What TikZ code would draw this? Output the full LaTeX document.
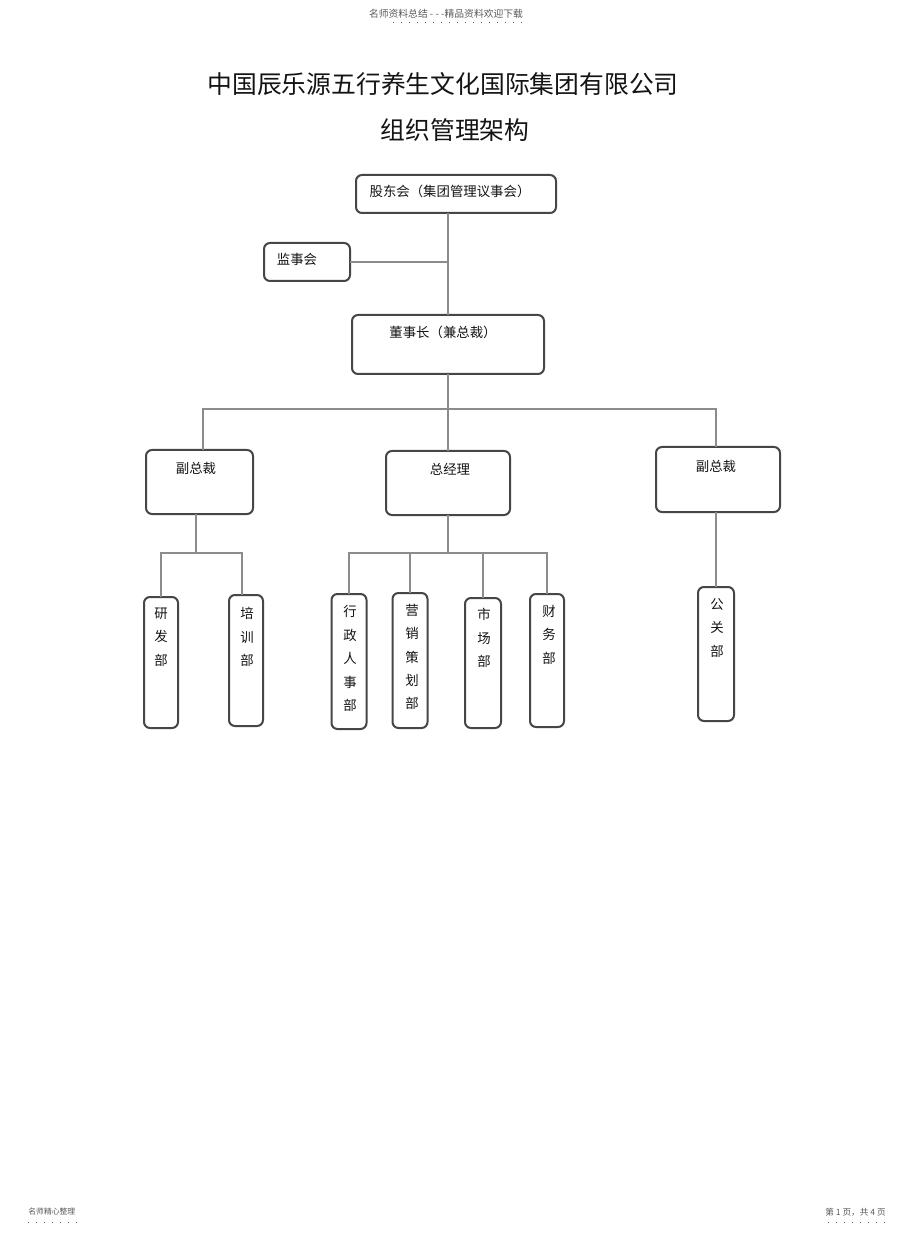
\documentclass[tikz,border=0pt]{standalone}
\usepackage{fontspec}
\newfontfamily\cjk{Noto Sans CJK SC}
\usepackage{xcolor}
\definecolor{orgborder}{RGB}{70,70,70}
\definecolor{orgline}{RGB}{140,140,140}
\definecolor{orgtext}{RGB}{20,20,20}
\definecolor{orggray}{RGB}{90,90,90}
\usetikzlibrary{positioning,calc}

\begin{document}
\begin{tikzpicture}[
  x=0.5pt, y=-0.5pt,
  orgbox/.style={
    rectangle, rounded corners=3pt,
    draw=orgborder, line width=1pt,
    fill=white, inner sep=0pt, outer sep=0pt
  },
  orglabel/.style={
    font=\cjk\fontsize{6.7}{11.7}\selectfont,
    text=orgtext, align=center, inner sep=0pt
  },
  conn/.style={draw=orgline, line width=1.2pt},
  pagetext/.style={font=\cjk\fontsize{3.9}{4.5}\selectfont, text=orggray, inner sep=0pt},
  pagedots/.style={draw=orggray, line width=0.5pt, dash pattern=on 0.5pt off 3.5pt}
]
\path[fill=white] (0,0) rectangle (920,1234);
\useasboundingbox (0,0) rectangle (920,1234);

\node[pagetext, font=\cjk\fontsize{4.9}{5.5}\selectfont] (hdr) at (446,14) {名师资料总结 - - -精品资料欢迎下载};
\draw[pagedots] (393,23) -- (529,23);
\node[pagetext, anchor=west] (ftl) at (28,1212) {名师精心整理};
\draw[pagedots] (28,1222) -- (78,1222);
\node[pagetext, font=\cjk\fontsize{4.3}{5}\selectfont, anchor=east] (ftr) at (886,1212) {第 1 页，共 4 页};
\draw[pagedots] (828,1222) -- (892,1222);

\node[font=\cjk\fontsize{12.4}{14}\selectfont, text=orgtext] (t1) at (443,84)
  {中国辰乐源五行养生文化国际集团有限公司};
\node[font=\cjk\fontsize{12.4}{14}\selectfont, text=orgtext] (t2) at (455,130)
  {组织管理架构};

\coordinate (bus) at (448,409);
\coordinate (lbus) at (196,553);
\coordinate (cbus) at (448,553);

\node[orgbox, minimum width=100pt,  minimum height=19pt]   (gd)   at (456,194)   {};
\node[orgbox, minimum width=43pt,   minimum height=19pt]   (jsh)  at (307,262)   {};
\node[orgbox, minimum width=96pt,   minimum height=29.5pt] (dsz)  at (448,344.5) {};
\node[orgbox, minimum width=53.5pt, minimum height=32pt]   (fzca) at (199.5,482) {};
\node[orgbox, minimum width=62pt,   minimum height=32pt]   (zjl)  at (448,483)   {};
\node[orgbox, minimum width=62pt,   minimum height=32.5pt] (fzcb) at (718,479.5) {};

\node[orgbox, minimum width=17pt,   minimum height=65.5pt] (yfb)  at (161,662.5) {};
\node[orgbox, minimum width=17pt,   minimum height=65.5pt] (pxb)  at (246,660.5) {};
\node[orgbox, minimum width=17.5pt, minimum height=67.5pt] (xzrs) at (349,661.5) {};
\node[orgbox, minimum width=17.5pt, minimum height=67.5pt] (yxch) at (410,660.5) {};
\node[orgbox, minimum width=18pt,   minimum height=65pt]   (scb)  at (483,663)   {};
\node[orgbox, minimum width=17pt,   minimum height=66.5pt] (cwb)  at (547,660.5) {};
\node[orgbox, minimum width=18pt,   minimum height=67pt]   (ggb)  at (716,654)   {};

\node[orglabel] (gd-t)   at (450,191)   {股东会（集团管理议事会）};
\node[orglabel] (jsh-t)  at (297,259)   {监事会};
\node[orglabel] (dsz-t)  at (443,332)   {董事长（兼总裁）};
\node[orglabel] (fzca-t) at (196,468)   {副总裁};
\node[orglabel] (zjl-t)  at (450,469)   {总经理};
\node[orglabel] (fzcb-t) at (716,466)   {副总裁};
\node[orglabel] (yfb-t)  at (161,637)   {研\\发\\部};
\node[orglabel] (pxb-t)  at (247,637)   {培\\训\\部};
\node[orglabel] (xzrs-t) at (350,658.5) {行\\政\\人\\事\\部};
\node[orglabel] (yxch-t) at (412,657)   {营\\销\\策\\划\\部};
\node[orglabel] (scb-t)  at (484,638)   {市\\场\\部};
\node[orglabel] (cwb-t)  at (549,634.5) {财\\务\\部};
\node[orglabel] (ggb-t)  at (717,628)   {公\\关\\部};

\draw[conn] (gd.south -| dsz) -- (dsz.north);
\draw[conn] (jsh.east) -- (jsh.east -| dsz);
\draw[conn] (dsz.south) -- (zjl.north);
\draw[conn] (fzca.north -| 203,0) |- (bus) -| (fzcb.north -| 716,0);
\draw[conn] (fzca.south -| lbus) -- (lbus);
\draw[conn] (yfb.north) |- (lbus) -| (pxb.north -| 242,0);
\draw[conn] (zjl.south) -- (cbus);
\draw[conn] (xzrs.north) |- (cbus) -| (cwb.north);
\draw[conn] (yxch.north) -- (yxch.north |- cbus);
\draw[conn] (scb.north) -- (scb.north |- cbus);
\draw[conn] (fzcb.south -| ggb) -- (ggb.north);
\end{tikzpicture}
\end{document}
